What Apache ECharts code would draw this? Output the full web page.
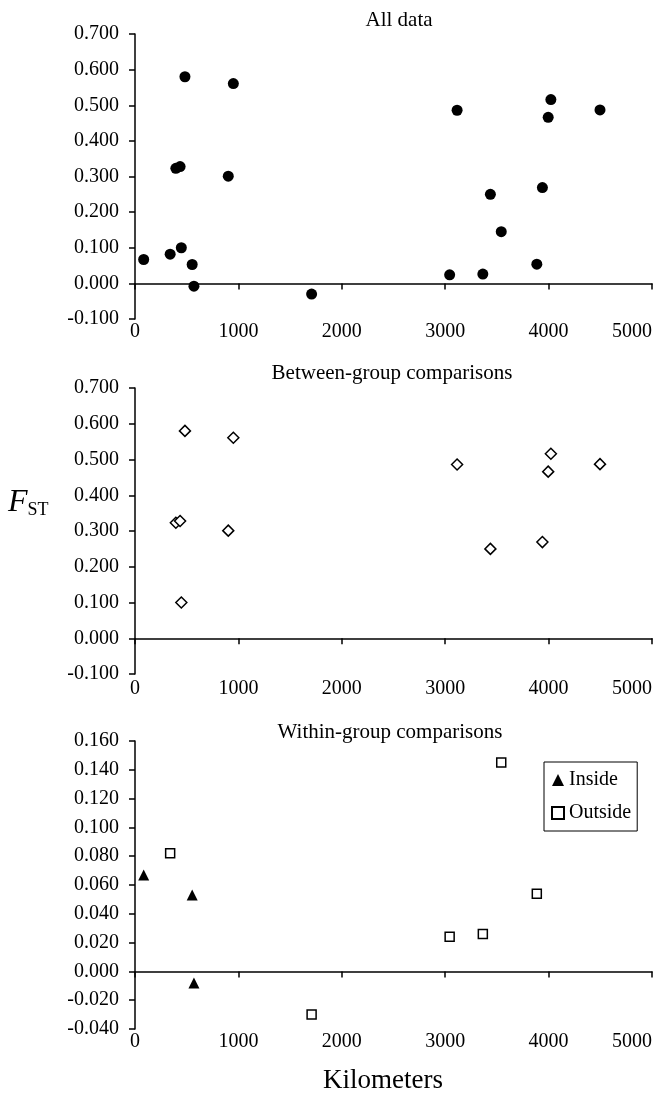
<!DOCTYPE html>
<html>
<head>
<meta charset="utf-8">
<script src="https://cdn.jsdelivr.net/npm/echarts@6/dist/echarts.min.js"></script>
<style>
  html, body { margin: 0; padding: 0; background: #fff; }
  #chart { width: 662px; height: 1094px; }
</style>
</head>
<body>
<div id="chart"></div>
<script>
// [km, FST]
const betweenGroup = [
  [483, 0.580], [951, 0.561], [395, 0.323], [436, 0.328], [902, 0.301],
  [448, 0.100], [3115, 0.486], [3437, 0.250], [3940, 0.269], [3996, 0.466],
  [4022, 0.516], [4497, 0.487]
];
const insideGroup = [[84, 0.067], [553, 0.053], [570, -0.008]];
const outsideGroup = [
  [340, 0.082], [1708, -0.030], [3043, 0.024], [3364, 0.026], [3542, 0.145], [3886, 0.054]
];
const allData = betweenGroup.concat(insideGroup, outsideGroup);

const panelTitles = ["All data", "Between-group comparisons", "Within-group comparisons"];
const xRange = [0, 5000, 1000];
const yRanges = [[-0.1, 0.7, 0.1], [-0.1, 0.7, 0.1], [-0.04, 0.16, 0.02]];

const serif = '"Liberation Serif", "Times New Roman", serif';
const grids = [
  { left: 135, right: 10, top: 34, height: 285 },
  { left: 135, right: 10, top: 388, height: 286 },
  { left: 135, right: 10, top: 741, height: 288 },
];
const labelMargins = [3, 5, 3];
const titlePos = [[399, 20], [392, 373], [390, 732]];

const xAxis = [];
const yAxis = [];
grids.forEach((g, i) => {
  // labels along the bottom of the panel
  xAxis.push({
    gridIndex: i, type: "value", min: xRange[0], max: xRange[1], interval: xRange[2],
    position: "bottom",
    axisLine: { show: false, onZero: false },
    axisTick: { show: false },
    splitLine: { show: false },
    axisLabel: {
      margin: labelMargins[i], color: "#000", fontSize: 20, fontFamily: serif,
      alignMaxLabel: "right",
      formatter: (v) => String(v),
    },
  });
  // zero line with ticks
  xAxis.push({
    gridIndex: i, type: "value", min: xRange[0], max: xRange[1], interval: xRange[2],
    position: "bottom",
    axisLine: { show: true, onZero: true, lineStyle: { color: "#000", width: 1.5 } },
    axisTick: { show: true, length: 6, lineStyle: { color: "#000", width: 1.5 } },
    splitLine: { show: false },
    axisLabel: { show: false },
  });
  yAxis.push({
    gridIndex: i, type: "value", min: yRanges[i][0], max: yRanges[i][1], interval: yRanges[i][2],
    axisLine: { show: true, onZero: false, lineStyle: { color: "#000", width: 1.5 } },
    axisTick: { show: true, length: 6, lineStyle: { color: "#000", width: 1.5 } },
    splitLine: { show: false },
    axisLabel: {
      margin: 16, color: "#000", fontSize: 20, fontFamily: serif,
      formatter: (v) => v.toFixed(3),
    },
  });
});

const graphic = panelTitles.map((t, i) => ({
  type: "text", x: titlePos[i][0], y: titlePos[i][1],
  style: { text: t, fill: "#000", fontSize: 21, fontFamily: serif, align: "center", verticalAlign: "middle" },
}));
graphic.push({
  type: "text", x: 8, y: 503,
  style: {
    text: "{f|F}{s|ST}", verticalAlign: "middle",
    rich: {
      f: { fontSize: 32, fontStyle: "italic", fontFamily: serif, fill: "#000", verticalAlign: "bottom" },
      s: { fontSize: 18, fontFamily: serif, fill: "#000", verticalAlign: "bottom" },
    },
  },
});
graphic.push({
  type: "text", x: 383, y: 1081,
  style: { text: "Kilometers", fill: "#000", fontSize: 27, fontFamily: serif, align: "center", verticalAlign: "middle" },
});

const chart = echarts.init(document.getElementById("chart"));
chart.setOption({
  animation: false,
  backgroundColor: "#fff",
  grid: grids,
  xAxis: xAxis,
  yAxis: yAxis,
  graphic: graphic,
  legend: {
    data: ["Inside", "Outside"],
    orient: "vertical",
    left: 544, top: 762,
    padding: [8, 6, 8, 7],
    itemGap: 13, itemWidth: 12, itemHeight: 12,
    borderColor: "#000", borderWidth: 1, borderRadius: 0,
    textStyle: { color: "#000", fontSize: 20, fontFamily: serif },
  },
  series: [
    {
      name: "All", type: "scatter", xAxisIndex: 0, yAxisIndex: 0,
      symbol: "circle", symbolSize: 11,
      itemStyle: { color: "#000", opacity: 1 },
      data: allData,
    },
    {
      name: "Between", type: "scatter", xAxisIndex: 2, yAxisIndex: 1,
      symbol: "diamond", symbolSize: 11,
      itemStyle: { color: "#fff", borderColor: "#000", borderWidth: 1.5, opacity: 1 },
      data: betweenGroup,
    },
    {
      name: "Inside", type: "scatter", xAxisIndex: 4, yAxisIndex: 2,
      symbol: "triangle", symbolSize: 11,
      itemStyle: { color: "#000", opacity: 1 },
      data: insideGroup,
    },
    {
      name: "Outside", type: "scatter", xAxisIndex: 4, yAxisIndex: 2,
      symbol: "rect", symbolSize: 9,
      itemStyle: { color: "#fff", borderColor: "#000", borderWidth: 1.5, opacity: 1 },
      data: outsideGroup,
    },
  ],
});
</script>
</body>
</html>
